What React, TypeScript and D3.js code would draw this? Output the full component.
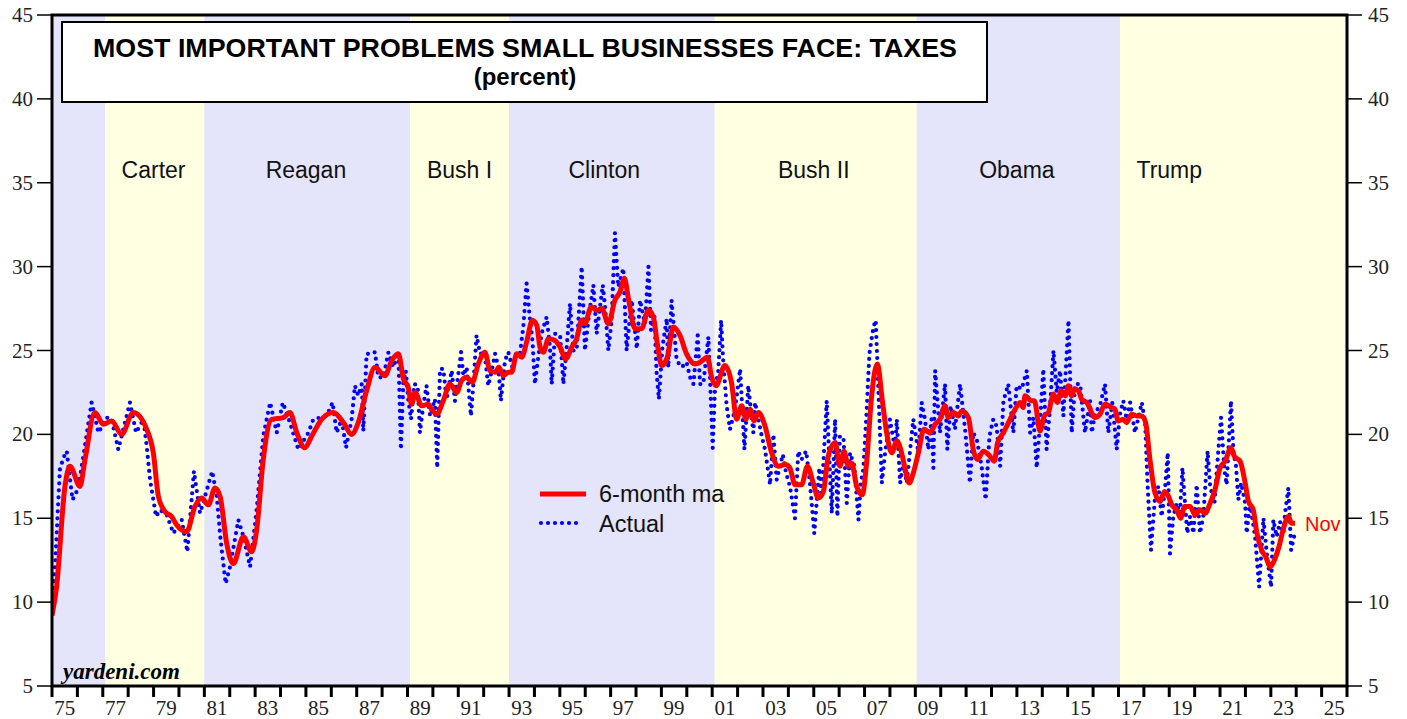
import React from 'react';
import * as d3 from 'd3';

// ---------- data ----------
const yTicks = [5, 10, 15, 20, 25, 30, 35, 40, 45];
const xTickYears = d3.range(1975, 2027);
const xLabelYears = d3.range(1975, 2026, 2);

const presidents = [
  { name: '', start: 1975.0, end: 1977.1, label: 1976, shade: 'blue' },
  { name: 'Carter', start: 1977.1, end: 1981.0, label: 1979.0, shade: 'yellow' },
  { name: 'Reagan', start: 1981.0, end: 1989.1, label: 1985.0, shade: 'blue' },
  { name: 'Bush I', start: 1989.1, end: 1993.0, label: 1991.05, shade: 'yellow' },
  { name: 'Clinton', start: 1993.0, end: 2001.1, label: 1996.75, shade: 'blue' },
  { name: 'Bush II', start: 2001.1, end: 2009.05, label: 2005.0, shade: 'yellow' },
  { name: 'Obama', start: 2009.05, end: 2017.06, label: 2013.0, shade: 'blue' },
  { name: 'Trump', start: 2017.06, end: 2026.0, label: 2019.0, shade: 'yellow' },
];

// Actual (dotted blue): [decimal year, percent]
const actual: [number, number][] = [
  [1975.0, 10.0], [1975.12, 12.1], [1975.31, 17.9], [1975.45, 18.6], [1975.58, 19.0], [1975.71, 17.3],
  [1975.81, 16.1], [1976.04, 16.8], [1976.56, 21.9], [1976.83, 20.1], [1977.15, 21.0], [1977.35, 20.9],
  [1977.61, 19.1], [1978.07, 21.9], [1978.31, 20.1], [1978.6, 20.9], [1978.73, 19.3], [1978.86, 17.3],
  [1979.1, 15.1], [1979.25, 15.5], [1979.52, 15.2], [1979.78, 14.1], [1980.11, 14.9], [1980.33, 13.0],
  [1980.59, 17.8], [1980.83, 15.3], [1981.31, 17.8], [1981.49, 16.3], [1981.64, 13.7], [1981.84, 11.1],
  [1982.01, 12.1], [1982.34, 14.9], [1982.54, 13.9], [1982.8, 12.1], [1983.06, 15.5], [1983.32, 19.9],
  [1983.59, 21.9], [1983.85, 20.1], [1984.09, 21.9], [1984.37, 20.7], [1984.7, 19.1], [1985.1, 20.1],
  [1985.29, 20.9], [1985.82, 21.1], [1986.05, 21.9], [1986.21, 20.1], [1986.41, 20.9], [1986.58, 19.2],
  [1986.8, 20.9], [1986.93, 22.9], [1987.06, 22.3], [1987.2, 23.0], [1987.26, 20.2], [1987.39, 24.8],
  [1987.59, 24.8], [1987.72, 24.9], [1987.85, 23.4], [1988.05, 23.4], [1988.25, 24.9], [1988.44, 24.0],
  [1988.64, 24.9], [1988.74, 19.1], [1988.84, 23.2], [1988.93, 23.8], [1989.03, 22.1], [1989.14, 20.9],
  [1989.27, 23.0], [1989.4, 22.9], [1989.49, 20.1], [1989.62, 21.7], [1989.75, 22.9], [1989.89, 21.1],
  [1990.08, 22.1], [1990.17, 18.0], [1990.28, 23.9], [1990.41, 23.9], [1990.54, 22.1], [1990.74, 23.8],
  [1990.87, 22.0], [1991.11, 24.9], [1991.2, 23.5], [1991.33, 24.0], [1991.5, 21.1], [1991.59, 22.9],
  [1991.72, 25.9], [1991.86, 24.8], [1992.03, 24.9], [1992.18, 22.9], [1992.32, 23.8], [1992.45, 24.8],
  [1992.58, 24.0], [1992.68, 22.0], [1992.84, 24.4], [1992.97, 24.9], [1993.13, 24.0], [1993.3, 24.9],
  [1993.43, 24.8], [1993.56, 26.4], [1993.69, 29.0], [1993.8, 27.2], [1993.92, 25.6], [1994.02, 23.0],
  [1994.15, 24.6], [1994.28, 26.0], [1994.48, 27.0], [1994.61, 25.2], [1994.68, 23.0], [1994.81, 26.0],
  [1995.01, 25.9], [1995.14, 23.0], [1995.27, 25.2], [1995.4, 27.8], [1995.53, 25.0], [1995.66, 25.0],
  [1995.86, 30.0], [1995.99, 25.0], [1996.12, 26.8], [1996.32, 28.9], [1996.45, 26.0], [1996.69, 28.9],
  [1996.78, 27.6], [1996.91, 25.0], [1997.04, 26.8], [1997.17, 32.0], [1997.3, 28.8], [1997.5, 29.9],
  [1997.63, 25.0], [1997.83, 28.0], [1998.03, 25.1], [1998.16, 28.0], [1998.35, 26.6], [1998.49, 30.0],
  [1998.59, 26.2], [1998.72, 27.2], [1998.81, 23.7], [1998.9, 22.1], [1999.04, 25.2], [1999.21, 26.9],
  [1999.27, 24.0], [1999.4, 28.0], [1999.6, 24.4], [1999.8, 24.0], [1999.99, 24.3], [2000.13, 23.4],
  [2000.26, 23.0], [2000.43, 25.9], [2000.52, 23.0], [2000.65, 23.0], [2000.85, 25.8], [2001.02, 19.2],
  [2001.11, 22.7], [2001.24, 23.8], [2001.35, 26.8], [2001.44, 24.2], [2001.57, 21.7], [2001.7, 20.3],
  [2001.9, 21.5], [2002.1, 23.9], [2002.27, 19.1], [2002.42, 22.9], [2002.62, 20.1], [2002.69, 21.9],
  [2002.95, 19.9], [2003.08, 19.1], [2003.28, 17.0], [2003.41, 20.0], [2003.54, 17.3], [2003.78, 18.8],
  [2003.91, 17.7], [2004.06, 16.9], [2004.26, 15.0], [2004.39, 19.0], [2004.52, 18.5], [2004.7, 19.0],
  [2004.85, 17.1], [2005.02, 14.1], [2005.22, 18.0], [2005.31, 16.3], [2005.51, 22.0], [2005.71, 15.3],
  [2005.84, 20.9], [2005.93, 15.1], [2006.03, 19.9], [2006.17, 19.8], [2006.3, 15.9], [2006.43, 18.9],
  [2006.6, 18.1], [2006.76, 14.9], [2006.85, 17.1], [2006.95, 17.9], [2007.08, 21.3], [2007.19, 24.8],
  [2007.35, 26.4], [2007.44, 26.8], [2007.54, 22.9], [2007.68, 17.1], [2007.81, 18.9], [2008.0, 20.9],
  [2008.2, 19.1], [2008.27, 20.9], [2008.4, 17.1], [2008.53, 18.3], [2008.66, 17.1], [2008.92, 20.9],
  [2009.12, 18.9], [2009.25, 21.9], [2009.38, 20.9], [2009.51, 19.1], [2009.64, 20.9], [2009.71, 18.0],
  [2009.78, 23.8], [2009.97, 20.1], [2010.17, 23.0], [2010.26, 19.1], [2010.39, 21.7], [2010.56, 20.3],
  [2010.76, 23.0], [2010.96, 20.3], [2011.15, 17.1], [2011.28, 20.1], [2011.42, 19.7], [2011.61, 18.1],
  [2011.77, 16.1], [2011.92, 19.9], [2012.07, 20.9], [2012.2, 20.5], [2012.34, 18.1], [2012.47, 22.0],
  [2012.66, 23.0], [2012.86, 20.1], [2012.99, 22.9], [2013.19, 22.7], [2013.39, 23.8], [2013.52, 20.1],
  [2013.65, 21.0], [2013.78, 18.0], [2013.91, 20.7], [2014.04, 23.9], [2014.17, 19.1], [2014.3, 21.5],
  [2014.44, 25.0], [2014.57, 22.5], [2014.7, 23.8], [2014.83, 21.1], [2015.03, 26.8], [2015.16, 20.1],
  [2015.29, 23.0], [2015.49, 23.0], [2015.68, 20.1], [2015.88, 22.0], [2015.95, 20.1], [2016.08, 21.3],
  [2016.27, 21.7], [2016.47, 23.0], [2016.6, 20.1], [2016.76, 21.9], [2016.93, 19.1], [2017.06, 21.2],
  [2017.19, 22.0], [2017.32, 20.9], [2017.46, 21.9], [2017.65, 20.1], [2017.92, 21.9], [2018.05, 20.7],
  [2018.15, 16.9], [2018.28, 13.1], [2018.44, 16.3], [2018.57, 16.9], [2018.7, 15.1], [2018.83, 16.7],
  [2018.94, 18.9], [2019.03, 12.9], [2019.16, 15.1], [2019.29, 15.9], [2019.42, 15.3], [2019.52, 18.0],
  [2019.62, 15.9], [2019.71, 14.1], [2019.82, 15.1], [2019.95, 14.1], [2020.08, 17.0], [2020.21, 14.1],
  [2020.34, 15.1], [2020.51, 19.0], [2020.61, 16.9], [2020.78, 15.9], [2020.93, 19.0], [2021.04, 21.0],
  [2021.17, 17.9], [2021.26, 17.0], [2021.43, 22.0], [2021.53, 18.9], [2021.63, 18.1], [2021.72, 16.1],
  [2021.83, 17.1], [2021.99, 15.9], [2022.05, 14.1], [2022.18, 15.9], [2022.38, 13.9], [2022.54, 10.9],
  [2022.71, 15.0], [2022.84, 12.9], [2023.01, 10.9], [2023.1, 14.9], [2023.23, 13.9], [2023.36, 14.8],
  [2023.5, 14.1], [2023.56, 15.3], [2023.69, 16.8], [2023.8, 13.1], [2023.93, 14.0],
];

// 6-month moving average (solid red): [decimal year, percent]
const ma6: [number, number][] = [
  [1975.0, 9.2], [1975.18, 10.9], [1975.51, 16.9], [1975.71, 18.1], [1976.1, 16.9], [1976.3, 18.5],
  [1976.69, 21.3], [1977.02, 20.6], [1977.35, 20.8], [1977.74, 20.0], [1978.2, 21.3], [1978.73, 20.3],
  [1978.99, 18.9], [1979.19, 16.3], [1979.45, 15.4], [1979.71, 15.1], [1979.91, 14.6], [1980.3, 14.2],
  [1980.63, 15.7], [1980.89, 16.2], [1981.16, 15.8], [1981.42, 16.8], [1981.62, 16.3], [1981.88, 13.5],
  [1982.14, 12.3], [1982.54, 13.9], [1982.86, 13.0], [1983.06, 14.3], [1983.32, 18.5], [1983.65, 20.9],
  [1984.11, 21.0], [1984.37, 21.3], [1984.64, 20.1], [1984.96, 19.2], [1985.23, 19.9], [1985.62, 20.9],
  [1986.08, 21.3], [1986.48, 20.7], [1986.8, 20.0], [1987.06, 20.7], [1987.39, 22.6], [1987.72, 24.0],
  [1988.11, 23.5], [1988.38, 24.4], [1988.64, 24.8], [1988.84, 23.3], [1989.03, 22.8], [1989.16, 21.8],
  [1989.3, 22.5], [1989.56, 21.7], [1989.82, 21.8], [1989.95, 21.5], [1990.15, 21.2], [1990.41, 22.0],
  [1990.67, 23.0], [1990.94, 22.5], [1991.13, 23.2], [1991.33, 23.4], [1991.55, 23.1], [1991.79, 24.2],
  [1992.05, 24.9], [1992.25, 23.8], [1992.45, 23.7], [1992.6, 24.0], [1992.77, 23.5], [1992.97, 23.7],
  [1993.1, 23.7], [1993.3, 24.8], [1993.5, 24.6], [1993.69, 25.5], [1993.92, 26.8], [1994.09, 26.5],
  [1994.22, 25.2], [1994.35, 24.9], [1994.55, 25.7], [1994.81, 25.6], [1995.01, 25.2], [1995.23, 24.5],
  [1995.47, 25.2], [1995.66, 25.7], [1995.86, 26.8], [1995.99, 26.6], [1996.23, 27.6], [1996.45, 27.4],
  [1996.65, 27.5], [1996.91, 26.6], [1997.17, 28.0], [1997.37, 28.5], [1997.54, 29.3], [1997.7, 28.1],
  [1997.96, 26.3], [1998.22, 26.3], [1998.49, 27.4], [1998.68, 27.0], [1998.85, 25.3], [1999.01, 24.1],
  [1999.23, 24.6], [1999.47, 26.4], [1999.73, 25.9], [1999.99, 24.8], [2000.32, 24.2], [2000.52, 24.3],
  [2000.81, 24.6], [2000.98, 23.4], [2001.15, 22.9], [2001.5, 24.1], [2001.77, 23.0], [2001.96, 20.9],
  [2002.16, 21.7], [2002.33, 20.9], [2002.49, 21.5], [2002.65, 20.8], [2002.82, 21.3], [2003.08, 20.5],
  [2003.34, 18.9], [2003.61, 18.1], [2003.87, 18.2], [2004.06, 18.0], [2004.26, 17.0], [2004.52, 17.0],
  [2004.75, 18.1], [2004.98, 17.1], [2005.18, 16.2], [2005.38, 16.6], [2005.57, 18.7], [2005.84, 19.5],
  [2006.03, 18.1], [2006.19, 19.0], [2006.36, 18.1], [2006.49, 18.3], [2006.69, 16.9], [2006.91, 16.4],
  [2007.08, 18.3], [2007.28, 22.3], [2007.5, 24.2], [2007.71, 21.9], [2007.87, 20.1], [2008.07, 18.9],
  [2008.27, 19.6], [2008.46, 18.9], [2008.59, 18.0], [2008.76, 17.1], [2008.92, 17.7], [2009.12, 18.9],
  [2009.34, 20.3], [2009.58, 20.1], [2009.78, 20.6], [2009.97, 20.9], [2010.17, 21.7], [2010.3, 21.0],
  [2010.5, 21.3], [2010.69, 21.1], [2010.83, 21.4], [2011.09, 21.0], [2011.28, 19.1], [2011.44, 18.5],
  [2011.68, 19.0], [2011.94, 18.7], [2012.11, 18.4], [2012.24, 19.5], [2012.47, 20.1], [2012.73, 20.9],
  [2012.93, 21.5], [2013.12, 21.9], [2013.25, 21.6], [2013.32, 22.3], [2013.58, 22.0], [2013.69, 22.0],
  [2013.91, 20.2], [2014.08, 21.1], [2014.24, 21.3], [2014.44, 22.4], [2014.59, 21.9], [2014.74, 22.6],
  [2014.9, 22.3], [2015.03, 22.9], [2015.16, 22.3], [2015.26, 22.7], [2015.42, 22.6], [2015.55, 22.1],
  [2015.75, 21.9], [2016.08, 21.0], [2016.27, 21.2], [2016.47, 21.8], [2016.73, 21.6], [2016.86, 21.5],
  [2016.99, 20.8], [2017.19, 20.9], [2017.32, 20.7], [2017.52, 21.2], [2017.72, 21.1], [2017.92, 21.1],
  [2018.07, 20.7], [2018.24, 18.5], [2018.44, 16.5], [2018.64, 16.0], [2018.81, 16.6], [2018.97, 16.3],
  [2019.1, 15.8], [2019.29, 15.5], [2019.45, 15.0], [2019.6, 15.7], [2019.82, 15.7], [2020.02, 15.2],
  [2020.21, 15.5], [2020.41, 15.3], [2020.61, 15.9], [2020.8, 16.7], [2021.0, 18.0], [2021.2, 18.4],
  [2021.43, 19.2], [2021.56, 18.7], [2021.79, 18.4], [2021.99, 17.1], [2022.12, 16.0], [2022.31, 15.5],
  [2022.44, 14.2], [2022.64, 13.1], [2022.8, 12.7], [2022.97, 12.1], [2023.14, 12.5], [2023.32, 13.3],
  [2023.5, 14.4], [2023.69, 15.1], [2023.82, 14.7], [2023.95, 14.7],
];

const title1 = 'MOST IMPORTANT PROBLEMS SMALL BUSINESSES FACE: TAXES';
const title2 = '(percent)';
const legendItems = ['6-month ma', 'Actual'];
const lastLabel = 'Nov';
const source = 'yardeni.com';

// ---------- component ----------
export default function App() {
  const left = 52, right = 1347, top = 15, bottom = 686;
  const x = d3.scaleLinear().domain([1975, 2026]).range([left, right]);
  const y = d3.scaleLinear().domain([5, 45]).range([bottom, top]);

  const actualLine = d3.line<[number, number]>().x(d => x(d[0])).y(d => y(d[1]));
  const maLine = d3.line<[number, number]>().x(d => x(d[0])).y(d => y(d[1])).curve(d3.curveMonotoneX);

  const shadeColor: Record<string, string> = { blue: '#E4E4FA', yellow: '#FFFFE1' };
  const sans = "'Liberation Sans', Arial, Helvetica, sans-serif";
  const serif = "'Liberation Serif', 'Times New Roman', serif";
  const last = ma6[ma6.length - 1];

  return (
    <svg width={1407} height={719} style={{ position: 'absolute', left: 0, top: 0, background: '#fff' }}>
      <defs>
        <clipPath id="plotclip">
          <rect x={left} y={top} width={right - left} height={bottom - top} />
        </clipPath>
      </defs>

      {/* presidential shading */}
      {presidents.map((p, i) => (
        <rect key={'s' + i} x={x(p.start)} y={top} width={x(p.end) - x(p.start)} height={bottom - top}
          fill={shadeColor[p.shade]} />
      ))}
      {presidents.filter(p => p.name).map((p, i) => (
        <text key={'pl' + i} x={x(p.label)} y={178} textAnchor="middle" fontFamily={sans} fontSize={23} fill="#111">
          {p.name}
        </text>
      ))}

      {/* title box */}
      <rect x={62} y={22} width={925} height={80} fill="#fff" stroke="#000" strokeWidth={2} />
      <text x={525} y={57} textAnchor="middle" fontFamily={sans} fontWeight="bold" fontSize={25} fill="#000"
        textLength={864} lengthAdjust="spacingAndGlyphs">{title1}</text>
      <text x={525} y={85} textAnchor="middle" fontFamily={sans} fontWeight="bold" fontSize={24} fill="#000">{title2}</text>

      {/* series */}
      <g clipPath="url(#plotclip)">
        <path d={actualLine(actual) || ''} fill="none" stroke="#0000FF" strokeWidth={4.2}
          strokeDasharray="0 7" strokeLinecap="round" />
        <path d={maLine(ma6) || ''} fill="none" stroke="#FF0000" strokeWidth={5} strokeLinejoin="round" />
      </g>
      <text x={x(last[0]) + 10} y={y(last[1]) + 8} fontFamily={sans} fontSize={20} fill="#FF0000">{lastLabel}</text>

      {/* legend */}
      <line x1={540} x2={586} y1={494} y2={494} stroke="#FF0000" strokeWidth={5} />
      <text x={599} y={502} fontFamily={sans} fontSize={23.5} fill="#111">{legendItems[0]}</text>
      <line x1={541} x2={577} y1={523} y2={523} stroke="#0000FF" strokeWidth={4.2} strokeDasharray="0 7" strokeLinecap="round" />
      <text x={599} y={532} fontFamily={sans} fontSize={23.5} fill="#111">{legendItems[1]}</text>

      {/* source */}
      <text x={63} y={679} fontFamily={serif} fontWeight="bold" fontStyle="italic" fontSize={23} fill="#000">{source}</text>

      {/* frame */}
      <rect x={left} y={top} width={right - left} height={bottom - top} fill="none" stroke="#000" strokeWidth={3} />

      {/* y axes */}
      {yTicks.map(t => (
        <g key={'y' + t}>
          <line x1={left - 15} x2={left} y1={y(t)} y2={y(t)} stroke="#000" strokeWidth={1.5} />
          <text x={left - 19} y={y(t) + 7} textAnchor="end" fontFamily={serif} fontSize={21} fill="#222">{t}</text>
          <line x1={right} x2={right + 15} y1={y(t)} y2={y(t)} stroke="#000" strokeWidth={1.5} />
          <text x={right + 21} y={y(t) + 7} textAnchor="start" fontFamily={serif} fontSize={21} fill="#222">{t}</text>
        </g>
      ))}

      {/* x axis */}
      {xTickYears.map(t => (
        <line key={'xt' + t} x1={x(t)} x2={x(t)} y1={bottom} y2={bottom + 11} stroke="#000" strokeWidth={3} />
      ))}
      {xLabelYears.map(t => (
        <text key={'xl' + t} x={x(t + 0.5)} y={715} textAnchor="middle" fontFamily={serif} fontSize={21} fill="#222">
          {String(t % 100).padStart(2, '0')}
        </text>
      ))}
    </svg>
  );
}
